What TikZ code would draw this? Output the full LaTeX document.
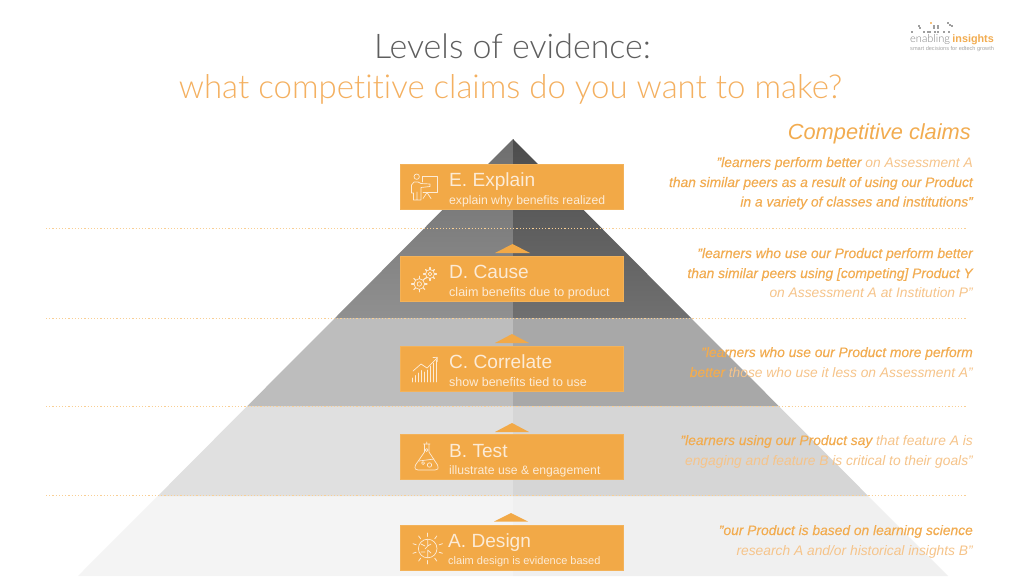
\documentclass[tikz,border=0pt]{standalone}
\usepackage{fontspec}
\usetikzlibrary{calc}
\setmainfont{Liberation Sans}
\newfontfamily\lightf[Ligatures=NoCommon]{Lato Light}
\definecolor{org}{HTML}{F2A947}
\definecolor{orgtxt}{HTML}{F2AC50}
\definecolor{orgpale}{HTML}{F6C48A}
\definecolor{boxtxt}{HTML}{FCEBD6}
\definecolor{dotc}{HTML}{F9CF94}
\definecolor{ttl}{HTML}{5E5E5E}
\definecolor{ttlo}{HTML}{F4B060}
\definecolor{aL}{HTML}{F4F4F4}\definecolor{aR}{HTML}{F0F0F0}
\definecolor{bL}{HTML}{E0E0E0}\definecolor{bR}{HTML}{D6D6D6}
\definecolor{cL}{HTML}{BDBDBD}\definecolor{cR}{HTML}{A8A8A8}
\definecolor{dLt}{HTML}{6E6E6E}\definecolor{dLb}{HTML}{909090}
\definecolor{dRt}{HTML}{4C4C4C}\definecolor{dRb}{HTML}{707070}
\newcommand{\fs}[1]{\fontsize{#1}{#1}\selectfont}
\newcommand{\dk}[1]{{\addfontfeature{FakeBold=0.15}\textcolor{orgtxt}{#1}}}
\newcommand{\lt}[1]{\textcolor{orgpale}{#1}}
\tikzset{
  x=1pt,y=-1pt,
  lvl/.style={fill=org,draw=org!90!white,line width=0.5pt,minimum width=223pt,minimum height=45pt,anchor=north west,inner sep=0pt},
  head/.style={anchor=base west,inner sep=0pt,text=boxtxt,font=\fs{19.1}},
  subt/.style={anchor=base west,inner sep=0pt,text=boxtxt,font=\fs{12.2}},
  claim/.style={anchor=base east,inner sep=0pt,font=\fs{13.8}\itshape},
  lv/.style={draw=dotc,line width=1pt,dash pattern=on 1.2pt off 2pt},
  ic/.style={draw=boxtxt,line width=0.7pt,line cap=round,line join=round},
  upm/.style={fill=org},
}
\newcommand{\gear}[3]{%
  \draw[ic] (#1,#2) circle[radius=#3*0.72];
  \draw[ic] (#1,#2) circle[radius=#3*0.3];
  \foreach \a in {0,45,...,315}{\draw[ic,line width=1.1pt] ($(#1,#2)+(\a:#3*0.72)$) -- ($(#1,#2)+(\a:#3*1.05)$);}
}
\begin{document}
\begin{tikzpicture}
\useasboundingbox (0,0) rectangle (1024,576);
\fill[white] (0,0) rectangle (1024,576);
% pyramid tiers
\fill[aL] (157.8,496) -- (513,496) -- (513,576) -- (78,576) -- cycle;
\fill[aR] (868.2,496) -- (513,496) -- (513,576) -- (948,576) -- cycle;
\fill[bL] (247.3,406) -- (513,406) -- (513,496) -- (157.8,496) -- cycle;
\fill[bR] (778.7,406) -- (513,406) -- (513,496) -- (868.2,496) -- cycle;
\fill[cL] (335,318) -- (513,318) -- (513,406) -- (247.3,406) -- cycle;
\fill[cR] (691,318) -- (513,318) -- (513,406) -- (778.7,406) -- cycle;
\shade[top color=dLt,bottom color=dLb] (513,139) -- (513,318) -- (335,318) -- cycle;
\shade[top color=dRt,bottom color=dRb] (513,139) -- (513,318) -- (691,318) -- cycle;
% dotted level lines
\foreach \yy in {228,318,406.5,495.5}{\draw[lv] (46,\yy) -- (966,\yy);}
% small up markers
\fill[upm] (495,253) -- (512.5,244) -- (530,253) -- cycle;
\fill[upm] (495,343) -- (512,334) -- (529,343) -- cycle;
\fill[upm] (495,432) -- (512,423) -- (529,432) -- cycle;
\fill[upm] (494,521.5) -- (511,513) -- (528,521.5) -- cycle;
% level boxes
\node[lvl] (boxE) at (400,164) {};
\node[lvl] (boxD) at (400,256) {};
\node[lvl] (boxC) at (400,346) {};
\node[lvl] (boxB) at (400,434) {};
\node[lvl] (boxA) at (400,524.5) {};
\node[head] (hE) at (449,186) {E. Explain};
\node[subt] (sE) at (449,204) {explain why benefits realized};
\node[head] (hD) at (449,278) {D. Cause};
\node[subt,font=\fs{12.55}] (sD) at (449,296) {claim benefits due to product};
\node[head] (hC) at (449,368.5) {C. Correlate};
\node[subt,font=\fs{12.5}] (sC) at (449,386) {show benefits tied to use};
\node[head] (hB) at (449,457.5) {B. Test};
\node[subt] (sB) at (449,474) {illustrate use \& engagement};
\node[head] (hA) at (448,547.5) {A. Design};
\node[subt,font=\fs{11}] (sA) at (448,564.5) {claim design is evidence based};
% icon E: presenter
\draw[ic] (416.7,176.7) circle[radius=2.7];
\draw[ic] (422.5,182) -- (422.5,176) -- (437.3,176) -- (437.3,192.5) -- (423,192.5);
\draw[ic] (427,192.5) -- (423,198.5) (427,192.5) -- (431,198.5);
\draw[ic] (421,187.5) -- (430,186.5) -- (430,184) -- (421,183.5) -- (418,182) -- (414,182) -- (411.5,185) -- (411.5,193) -- (413.5,193) -- (413.5,200) -- (421,200) -- cycle (417,200) -- (417,192);
% icon D: gears
\gear{419.3}{284}{7.4}
\gear{430}{274}{6.2}
% icon C: chart
\draw[ic] (412.5,382) -- (412.5,378) (415.5,382) -- (415.5,375.5) (418.5,382) -- (418.5,373) (421.5,382) -- (421.5,370.5) (424.5,382) -- (424.5,372) (427.5,382) -- (427.5,370) (430.5,382) -- (430.5,366) (433.5,382) -- (433.5,363) (436.5,382) -- (436.5,360);
\draw[ic] (413,371) -- (421,364) -- (427,368) -- (437,358) (433,357.5) -- (437.3,357.3) -- (437.3,361.5);
% icon B: flask
\draw[ic] (423.5,444) -- (430,444) (424.5,444) -- (424.5,452) -- (415.5,465) .. controls (414,469) and (416,470) .. (418,470) -- (435,470) .. controls (437.5,470) and (439,469) .. (437.5,465) -- (429,452) -- (429,444);
\draw[ic] (426.7,444) -- (426.7,442) (419,461) -- (434,459);
\draw[ic] (423,463) circle[radius=1.5];
\draw[ic] (429.5,465) circle[radius=2.2];
\draw[ic] (426.7,450) circle[radius=1.5];
% icon A: brain
\draw[ic] (427.7,548.5) circle[radius=9.3];
\draw[ic] (427.7,539.2) -- (427.7,546) -- (425,549) (427.7,546) -- (431,544) (427.7,550) -- (431,553) (427.7,550) -- (427.7,557.8) (421,544) -- (425,546) (421,552) -- (425,552);
\foreach \a in {0,36,...,324}{\draw[ic,line width=0.8pt] ($(427.7,548.5)+(\a+18:12)$) -- ($(427.7,548.5)+(\a+18:15.5)$);}
% title
\node[anchor=base,inner sep=0pt,text=ttl,font=\lightf\fs{34}] (t1) at (512.5,58) {Levels of evidence:};
\node[anchor=base,inner sep=0pt,text=ttlo,font=\lightf\fs{33}] (t2) at (510.5,98) {what competitive claims do you want to make?};
% claims
\node[anchor=base east,inner sep=0pt,text=orgtxt,font=\fs{21.8}\itshape] (cc) at (971,139) {Competitive claims};
\node[claim] (e1) at (973,167) {\dk{"learners perform better} \lt{on Assessment A}};
\node[claim] (e2) at (973,187) {\dk{than similar peers as a result of using our Product}};
\node[claim] (e3) at (973,206.5) {\dk{in a variety of classes and institutions"}};
\node[claim] (d1) at (973,258) {\dk{"learners who use our Product perform better}};
\node[claim] (d2) at (973,278) {\dk{than similar peers using [competing] Product Y}};
\node[claim] (d3) at (973,297.5) {\lt{on Assessment A at Institution P"}};
\node[claim] (c1) at (973,357) {\dk{"learners who use our Product more perform}};
\node[claim] (c2) at (973,377) {\dk{better} \lt{those who use it less on Assessment A"}};
\node[claim] (b1) at (973,445) {\dk{"learners using our Product say} \lt{that feature A is}};
\node[claim] (b2) at (973,465) {\lt{engaging and feature B is critical to their goals"}};
\node[claim] (a1) at (973,535) {\dk{"our Product is based on learning science}};
\node[claim] (a2) at (973,555) {\lt{research A and/or historical insights B"}};
% logo
\foreach \px/\py/\pc in {911/31/gray,918/25/gray,919/27/gray,923/31/gray,927/31/gray,929/31/gray,930/22/orgtxt,933/25/gray,937/25/gray,933/27/gray,937/27/gray,934/31/gray,937/31/gray,943/31/gray,947/22/gray,949/24/gray,951/25/gray,948/31/gray}
  {\fill[\pc!75!white] (\px,\py) rectangle +(1.7,1.7);}
\node[anchor=base west,inner sep=0pt,text=gray,font=\lightf\fs{11}] (lg1) at (910,42) {enabling};
\node[anchor=base east,inner sep=0pt,text=orgtxt,font=\fs{10.8}\bfseries] (lg2) at (994,42) {insights};
\node[anchor=base west,inner sep=0pt,text=gray!70!white,font=\fs{5.6}] (lg3) at (910,50) {smart decisions for edtech growth};
\end{tikzpicture}
\end{document}
